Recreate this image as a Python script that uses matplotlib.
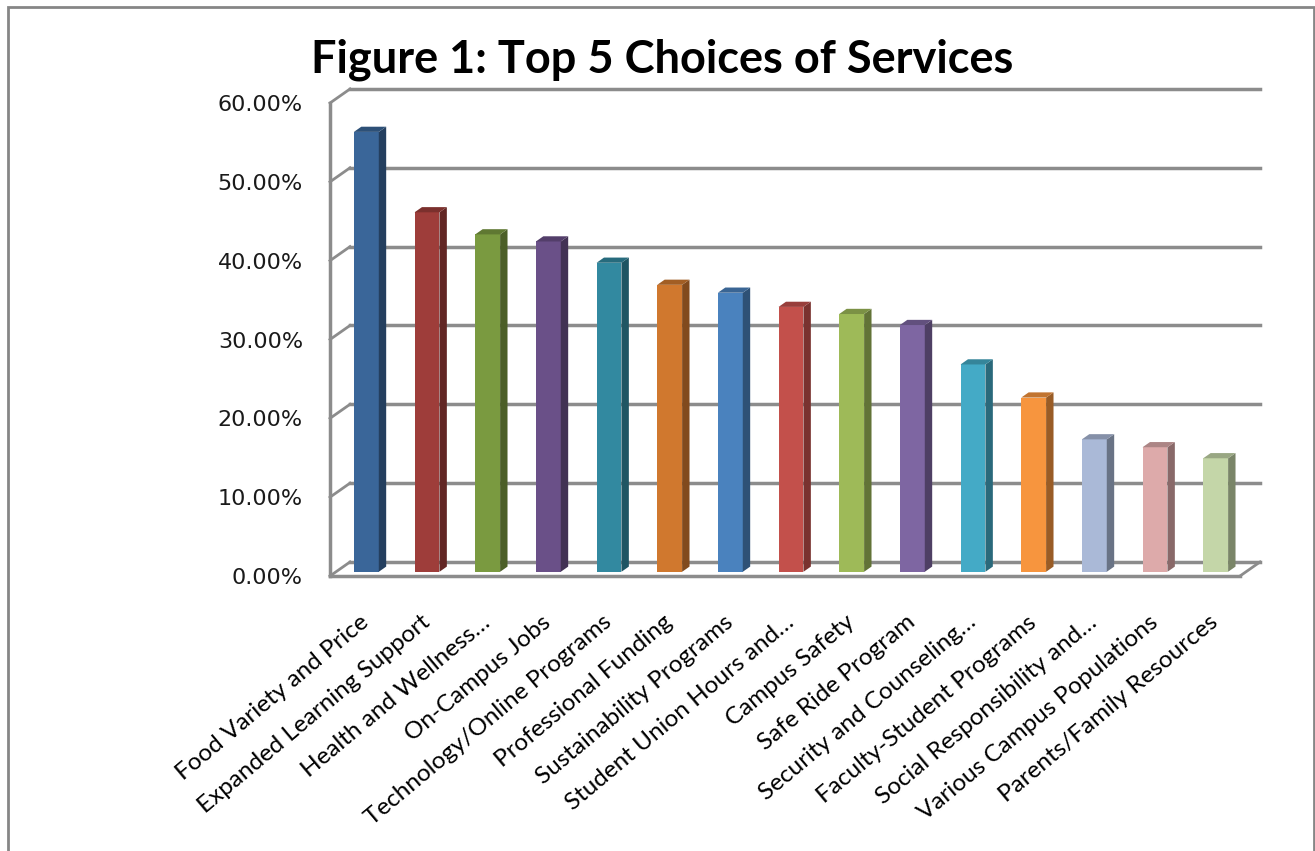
import numpy as np
import matplotlib.pyplot as plt
import matplotlib.transforms as mtransforms
from matplotlib.patches import Polygon, Rectangle
from matplotlib.colors import to_rgb

services = ['Food Variety and Price', 'Expanded Learning Support', 'Health and Wellness…',
            'On-Campus Jobs', 'Technology/Online Programs', 'Professional Funding',
            'Sustainability Programs', 'Student Union Hours and…', 'Campus Safety',
            'Safe Ride Program', 'Security and Counseling…', 'Faculty-Student Programs',
            'Social Responsibility and…', 'Various Campus Populations', 'Parents/Family Resources']
share = [55.8, 45.6, 42.8, 41.9, 39.2, 36.4, 35.4, 33.6, 32.7, 31.3, 26.3, 22.1, 16.8, 15.8, 14.4]
yticks = [0, 10, 20, 30, 40, 50, 60]

colors = ['#3A6699', '#9E3D3A', '#7A9A40', '#6A5088', '#3289A0', '#D0782E', '#4A82BE',
          '#C3504B', '#9EBA58', '#7E66A2', '#44AAC6', '#F7953E', '#AAB9D7', '#DDAAAA', '#C4D6A8']

GRID = '#8C8C8C'

fig = plt.figure(figsize=(13.15, 8.51), dpi=100)
ax = fig.add_axes([330 / 1315, 1 - 576 / 851, 910 / 1315, 473 / 851])
ax.set_xlim(-0.5, 14.5)
ax.set_ylim(0, 60)

# depth of the 3d box, in data units (about 20px right, 14px up)
DX = 0.33
DY = 1.78

# back wall gridlines and the little connectors on the left wall
for t in yticks:
    ax.plot([-0.5 + DX, 14.5 + DX], [t + DY, t + DY], color=GRID, lw=2.5, clip_on=False, zorder=1)
    ax.plot([-0.5, -0.5 + DX], [t, t + DY], color=GRID, lw=2.0, clip_on=False, zorder=1)
# right edge of the floor
ax.plot([14.5, 14.5 + DX], [0, DY], color=GRID, lw=2.0, clip_on=False, zorder=1)


def shade(c, k):
    r, g, b = to_rgb(c)
    return (r * k, g * k, b * k)


# columns: front face at 30% of the depth, 37% deep
x = np.arange(len(services))
f0 = 0.3
bw = 0.41
bdx, bdy = 0.37 * DX, 0.37 * DY
base = f0 * DY
ax.bar(x + f0 * DX, share, width=bw, bottom=base, color=colors, zorder=3, clip_on=False)
for i, v in enumerate(share):
    xl = i + f0 * DX - bw / 2
    xr = xl + bw
    top = base + v
    side = Polygon([(xr, base), (xr + bdx, base + bdy), (xr + bdx, top + bdy), (xr, top)],
                   closed=True, facecolor=shade(colors[i], 0.62), edgecolor='none', zorder=3, clip_on=False)
    cap = Polygon([(xl, top), (xr, top), (xr + bdx, top + bdy), (xl + bdx, top + bdy)],
                  closed=True, facecolor=shade(colors[i], 0.78), edgecolor='none', zorder=3, clip_on=False)
    ax.add_patch(side)
    ax.add_patch(cap)

for s in ['top', 'right']:
    ax.spines[s].set_visible(False)
for s in ['left', 'bottom']:
    ax.spines[s].set_color(GRID)
    ax.spines[s].set_linewidth(2.5)
    ax.spines[s].set_zorder(4)

ax.set_yticks(yticks)
ax.set_yticklabels(['%.2f%%' % t for t in yticks], fontsize=16, family='DejaVu Sans', color='#1a1a1a')
ax.set_xticks(x)
ax.set_xticklabels(services, rotation=40, ha='right', va='center', rotation_mode='anchor',
                   fontsize=17.5, family='Lato')
ax.tick_params(axis='y', length=0, pad=19.5)
ax.tick_params(axis='x', length=0, pad=27)

# nudge the slanted labels a little right and down
shift = mtransforms.ScaledTranslation(6 / 100, -6 / 100, fig.dpi_scale_trans)
for lab in ax.get_xticklabels():
    lab.set_transform(lab.get_transform() + shift)

fig.text(662 / 1315, 1 - 60 / 851, 'Figure 1: Top 5 Choices of Services', ha='center', va='center',
         fontsize=32.5, fontweight='bold', family='Lato')

# chart frame
fig.add_artist(Rectangle((8 / 1315, -0.05), 1306 / 1315, 1.05 - 7 / 851, transform=fig.transFigure,
                         fill=False, edgecolor='#868686', lw=2))

fig.savefig('out.png', dpi=100)
